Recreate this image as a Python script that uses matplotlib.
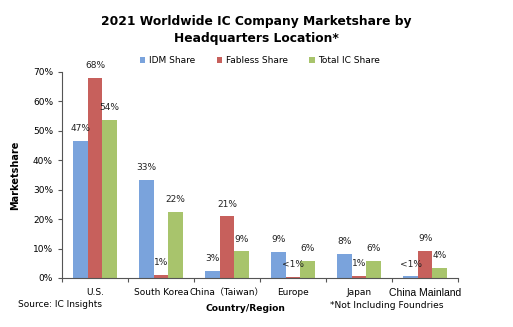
import numpy as np
import matplotlib
matplotlib.use("Agg")
import matplotlib.pyplot as plt

plt.rcParams['font.family'] = ['DejaVu Sans', 'Noto Sans CJK SC']

# data (percent)
regions = ["U.S.", "South Korea", "China\uff08Taiwan\uff09", "Europe", "Japan", "China Mainland"]
idm_share = [46.6, 33.3, 2.5, 8.9, 8.3, 0.5]
fabless_share = [68.0, 1.0, 21.0, 0.3, 0.8, 9.3]
total_share = [53.7, 22.4, 9.1, 5.8, 5.9, 3.5]
idm_labels = ["47%", "33%", "3%", "9%", "8%", "<1%"]
fabless_labels = ["68%", "1%", "21%", "<1%", "1%", "9%"]
total_labels = ["54%", "22%", "9%", "6%", "6%", "4%"]
yticks = [0, 10, 20, 30, 40, 50, 60, 70]

colors = ["#7aa3dc", "#c7605c", "#a8c46c"]
series = [("IDM Share", idm_share, idm_labels),
          ("Fabless Share", fabless_share, fabless_labels),
          ("Total IC Share", total_share, total_labels)]

fig = plt.figure(figsize=(5.13, 3.27), dpi=100)
ax = fig.add_axes([0.121, 0.150, 0.772, 0.630])

x = np.arange(len(regions))
w = 0.22
for i, (name, vals, labs) in enumerate(series):
    pos = x + (i - 1) * w
    ax.bar(pos, vals, width=w, color=colors[i], label=name)
    for px, v, t in zip(pos, vals, labs):
        ax.annotate(t, (px, v), xytext=(0, 5.5), textcoords="offset points",
                    ha="center", va="bottom", fontsize=6.5, color="#222222")

ax.set_xlim(-0.5, len(regions) - 0.5)
ax.set_ylim(0, 70)
ax.set_yticks(yticks)
ax.set_yticklabels([f"{t}%" for t in yticks], fontsize=6.5)
ax.set_xticks(np.arange(len(regions) + 1) - 0.5)
ax.set_xticklabels([])
ax.tick_params(axis="y", direction="out", length=3, color="#555555")
ax.tick_params(axis="x", direction="out", length=3, color="#555555")
for i, r in enumerate(regions):
    if r == "China Mainland":
        ax.text(i, -3.5, r, ha="center", va="top", fontsize=7.5,
                family=["Liberation Sans"])
    else:
        ax.text(i, -3.5, r, ha="center", va="top", fontsize=6.5)

for s in ["top", "right"]:
    ax.spines[s].set_visible(False)
for s in ["left", "bottom"]:
    ax.spines[s].set_color("#555555")

ax.set_ylabel("Marketshare", fontsize=7, fontweight="bold", labelpad=9)

fig.text(0.50, 0.955, "2021 Worldwide IC Company Marketshare by\nHeadquarters Location*",
         ha="center", va="top", fontsize=8.8, fontweight="bold", linespacing=1.45)

ax.legend(loc="upper center", bbox_to_anchor=(0.5, 1.115), ncol=3, frameon=False,
          fontsize=6.5, handlelength=0.6, handleheight=0.6, handletextpad=0.4,
          columnspacing=2.4)

fig.text(0.035, 0.068, "Source: IC Insights", fontsize=6.5, va="center")
fig.text(0.478, 0.058, "Country/Region", fontsize=6.6, fontweight="bold", ha="center", va="center")
fig.text(0.643, 0.065, "*Not Including Foundries", fontsize=6.6, va="center")

fig.savefig("out.png", dpi=100)
